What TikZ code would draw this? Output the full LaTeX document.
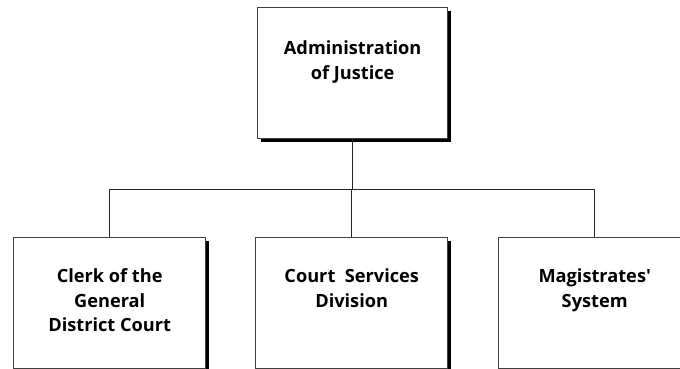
\documentclass[tikz,border=0pt]{standalone}
\usepackage{fontspec}
\setmainfont{Open Sans}[Ligatures=TeXOff]
\usetikzlibrary{shadows}
\begin{document}
\begin{tikzpicture}[x=1pt,y=-1pt,
  orgbox/.style={draw=black!75, line width=1.4pt, fill=white, inner sep=0pt,
    minimum height=131pt, anchor=north west,
    drop shadow={shadow xshift=3.5pt, shadow yshift=-3.5pt, fill=black, opacity=1}},
  lbl/.style={font=\bfseries\fontsize{18.2}{24.5}\selectfont, align=center, anchor=north, inner sep=0pt},
  conn/.style={line width=1pt, draw=black!85}]
\useasboundingbox (0,0) rectangle (680,369);
\node[orgbox, minimum width=190pt] (top) at (257,7) {};
\node[orgbox, minimum width=192pt] (left) at (13,237) {};
\node[orgbox, minimum width=192pt] (mid) at (255,237) {};
\node[orgbox, minimum width=192pt] (right) at (498,237) {};
\coordinate (bus) at (0,189);
\draw[conn] (top.south) -- (top.south |- bus);
\draw[conn] (left.north) -- (left.north |- bus) -- (right.north |- bus) -- (right.north);
\draw[conn] (mid.north) -- (mid.north |- bus);
\node[lbl] (ttop) at ([yshift=-33.5pt]top.north) {Administration\\of Justice};
\node[lbl] (tleft) at ([yshift=-31.5pt]left.north) {Clerk of the\\General\\District Court};
\node[lbl] (tmid) at ([yshift=-31.5pt]mid.north) {Court\ \ Services\\Division};
\node[lbl] (tright) at ([yshift=-31.5pt]right.north) {Magistrates'\\System};
\end{tikzpicture}
\end{document}
